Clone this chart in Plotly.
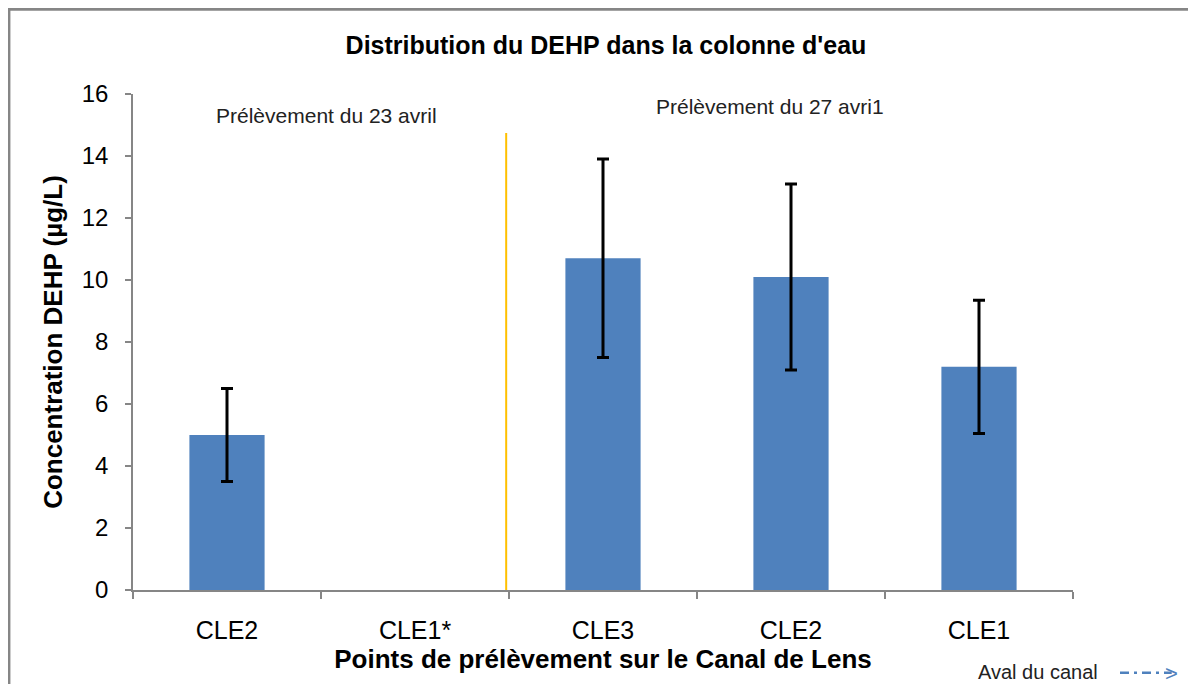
import plotly.graph_objects as go

# =========================
# DONNEES
# =========================
points = ["CLE2", "CLE1*", "CLE3", "CLE2", "CLE1"]
positions = [0, 1, 2, 3, 4]
concentration = [5.0, None, 10.7, 10.1, 7.2]
ecart = [1.5, None, 3.2, 3.0, 2.15]

separation = 1.485  # limite entre les deux campagnes
annot_23 = "Prélèvement du 23 avril"
annot_27 = "Prélèvement du 27 avri1"

FONT = "Liberation Sans, Arial, sans-serif"
AXE = "#868686"

fig = go.Figure()

fig.add_trace(go.Bar(
    x=positions,
    y=concentration,
    width=0.4,
    marker=dict(color="#4f81bd", line=dict(width=0)),
    error_y=dict(type="data", array=ecart, visible=True,
                 color="black", thickness=3, width=6),
    showlegend=False,
))

# ligne de séparation des deux prélèvements
fig.add_shape(type="line", xref="x", yref="y",
              x0=separation, x1=separation, y0=-0.26, y1=14.74,
              line=dict(color="#ffc000", width=2))

# cadre du graphique
fig.add_shape(type="rect", xref="paper", yref="paper",
              x0=-0.132, x1=1.3, y0=-0.4, y1=1.171,
              line=dict(color=AXE, width=3), layer="below")

fig.add_annotation(x=0.53, y=15.32, xref="x", yref="y", text=annot_23,
                   showarrow=False, font=dict(family=FONT, size=21, color="#222"))
fig.add_annotation(x=2.89, y=15.6, xref="x", yref="y", text=annot_27,
                   showarrow=False, font=dict(family=FONT, size=21, color="#222"))

# Aval du canal  - . - . >
fig.add_annotation(x=0.897, y=-0.192, xref="paper", yref="paper",
                   text="Aval du canal", showarrow=False, xanchor="left",
                   font=dict(family=FONT, size=20, color="#222"))
fig.add_shape(type="line", xref="paper", yref="paper",
              x0=1.05, x1=1.105, y0=-0.167, y1=-0.167,
              line=dict(color="#4f81bd", width=2.5, dash="9px,5px,3px,5px"))
fig.add_annotation(x=1.114, y=-0.197, xref="paper", yref="paper",
                   text=">", showarrow=False,
                   font=dict(family=FONT, size=22, color="#4f81bd"))

fig.update_layout(
    title=dict(text="<b>Distribution du DEHP dans la colonne d'eau</b>",
               x=0.5, xanchor="center", y=0.946, yanchor="middle",
               font=dict(family=FONT, size=25, color="black")),
    width=1196, height=684,
    margin=dict(l=125, r=131, t=86, b=102),
    paper_bgcolor="white", plot_bgcolor="white",
    font=dict(family=FONT, color="black"),
    bargap=0.6,
)

fig.update_xaxes(
    range=[-0.5, 4.5],
    tickmode="array", tickvals=positions, ticktext=points,
    ticks="", showgrid=False,
    showline=True, linecolor=AXE, linewidth=1.5,
    tickfont=dict(family=FONT, size=25),
    ticklabelstandoff=17,
    minor=dict(tick0=-0.5, dtick=1, ticks="outside", ticklen=7,
               tickcolor=AXE, tickwidth=1.5),
    title=dict(text="<b>Points de prélèvement sur le Canal de Lens</b>",
               font=dict(family=FONT, size=26), standoff=4),
)

fig.update_yaxes(
    range=[0, 16], dtick=2, tick0=0,
    ticks="outside", ticklen=6, tickcolor=AXE, tickwidth=1.5,
    showgrid=False, zeroline=False,
    showline=True, linecolor=AXE, linewidth=1.5,
    tickfont=dict(family=FONT, size=24),
    ticklabelstandoff=12,
    title=dict(text="<b>Concentration DEHP (µg/L)</b>",
               font=dict(family=FONT, size=26), standoff=12),
)

fig.write_html("out.html")
